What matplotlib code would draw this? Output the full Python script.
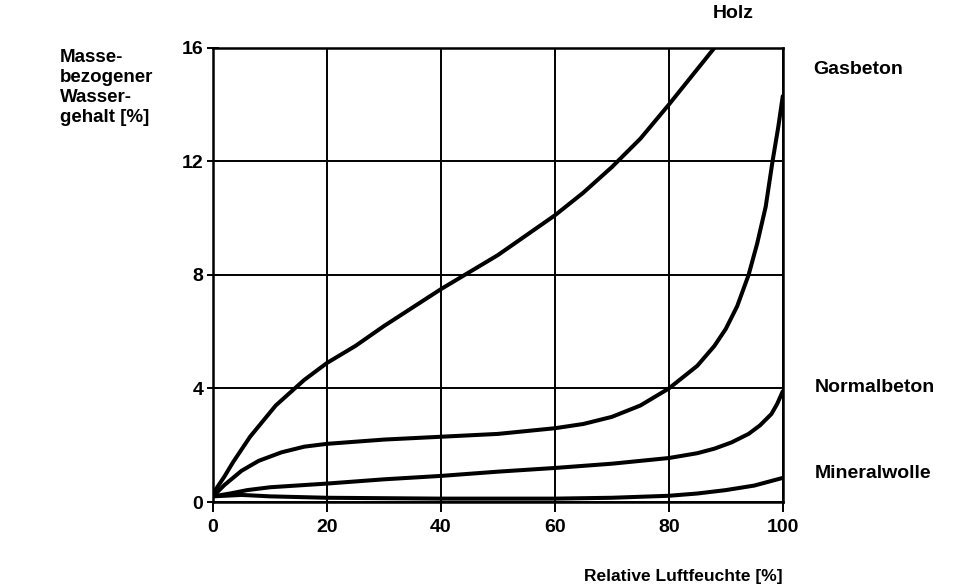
import matplotlib.pyplot as plt

# Sorption curves
rh_holz = [0, 2, 3.5, 6.5, 11, 16, 20, 25, 30, 35, 40, 45, 50, 55, 60, 65, 70, 75, 80, 84, 88]
w_holz = [0.3, 0.9, 1.4, 2.3, 3.4, 4.3, 4.9, 5.5, 6.2, 6.85, 7.5, 8.1, 8.7, 9.4, 10.1, 10.9, 11.8, 12.8, 14.0, 15.0, 16.0]

rh_gas = [0, 2, 5, 8, 12, 16, 20, 30, 40, 50, 60, 65, 70, 75, 80, 85, 88, 90, 92, 94, 95.5, 97, 98.2, 99.2, 100]
w_gas = [0.2, 0.6, 1.1, 1.45, 1.75, 1.95, 2.05, 2.2, 2.3, 2.4, 2.6, 2.75, 3.0, 3.4, 4.0, 4.8, 5.5, 6.1, 6.9, 8.0, 9.1, 10.4, 12.0, 13.2, 14.3]

rh_normal = [0, 3, 6, 10, 20, 30, 40, 50, 60, 70, 80, 85, 88, 91, 94, 96, 98, 99, 100]
w_normal = [0.2, 0.3, 0.42, 0.52, 0.65, 0.8, 0.92, 1.07, 1.2, 1.35, 1.55, 1.72, 1.88, 2.1, 2.4, 2.7, 3.1, 3.45, 3.9]

rh_mineral = [0, 5, 10, 20, 40, 60, 70, 80, 85, 90, 95, 100]
w_mineral = [0.2, 0.25, 0.2, 0.15, 0.12, 0.12, 0.15, 0.22, 0.3, 0.42, 0.58, 0.85]

xticks = [0, 20, 40, 60, 80, 100]
yticks = [0, 4, 8, 12, 16]

plt.rcParams['font.family'] = ['Liberation Sans', 'DejaVu Sans']

fig = plt.figure(figsize=(9.64, 5.86), dpi=100)
ax = fig.add_axes([0.221, 0.1433, 0.591, 0.775])

lw = 2.9
ax.plot(rh_holz, w_holz, color='black', lw=lw, solid_capstyle='round', solid_joinstyle='round')
ax.plot(rh_gas, w_gas, color='black', lw=lw, solid_capstyle='round', solid_joinstyle='round')
ax.plot(rh_normal, w_normal, color='black', lw=lw, solid_capstyle='round', solid_joinstyle='round')
ax.plot(rh_mineral, w_mineral, color='black', lw=lw, solid_capstyle='round', solid_joinstyle='round')

ax.set_xlim(0, 100)
ax.set_ylim(0, 16)
ax.set_xticks(xticks)
ax.set_yticks(yticks)
ax.grid(True, color='black', lw=1.4)
ax.set_axisbelow(True)
for s in ax.spines.values():
    s.set_linewidth(1.8)
ax.tick_params(axis='x', direction='out', length=7, width=1.4, labelsize=14, pad=5)
ax.tick_params(axis='y', direction='inout', length=8, width=1.4, labelsize=14, pad=3)
for lab in ax.get_xticklabels() + ax.get_yticklabels():
    lab.set_fontweight('bold')

# labels around the plot
fs = 14
fig.text(60 / 964, 1 - 49 / 586, 'Masse-\nbezogener\nWasser-\ngehalt [%]', ha='left', va='top',
         fontsize=13.5, fontweight='bold', linespacing=1.22)
fig.text(733 / 964, 1 - 14 / 586, 'Holz', ha='center', va='center', fontsize=fs, fontweight='bold')
fig.text(813 / 964, 1 - 70 / 586, 'Gasbeton', ha='left', va='center', fontsize=fs, fontweight='bold')
fig.text(815 / 964, 1 - 387 / 586, 'Normalbeton', ha='left', va='center', fontsize=fs, fontweight='bold')
fig.text(815 / 964, 1 - 474 / 586, 'Mineralwolle', ha='left', va='center', fontsize=fs, fontweight='bold')
fig.text(783 / 964, 1 - 577 / 586, 'Relative Luftfeuchte [%]', ha='right', va='center',
         fontsize=12.5, fontweight='bold')

plt.savefig('out.png', dpi=100, facecolor='white')
